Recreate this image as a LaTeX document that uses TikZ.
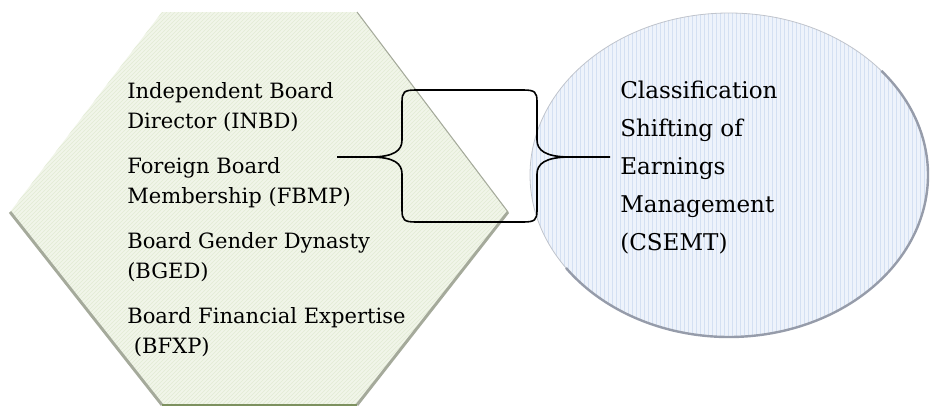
\documentclass[tikz,border=0pt]{standalone}
\usepackage{fontspec}
\setmainfont{DejaVu Serif}
\usetikzlibrary{patterns, calc}

\definecolor{hexgreen}{RGB}{241,245,233}
\definecolor{hexhatch}{RGB}{226,235,212}
\definecolor{hexshadow}{RGB}{165,170,155}
\definecolor{hexbase}{RGB}{125,145,95}
\definecolor{ovalblue}{RGB}{238,243,251}
\definecolor{ovalstripe}{RGB}{212,224,242}
\definecolor{ovaledge}{RGB}{150,156,170}

\begin{document}
\begin{tikzpicture}[x=0.75pt, y=-0.75pt,
    brace/.style={black, line width=1.2pt, line join=round},
    itemtext/.style={anchor=base west, align=left, inner sep=0pt,
      font=\fontsize{15.8}{22.5}\selectfont},
    outtext/.style={anchor=base west, align=left, inner sep=0pt,
      font=\fontsize{17.3}{28.5}\selectfont}]
    \useasboundingbox (0,0) rectangle (930,407);

    % Define corners of the hexagon
    \coordinate (H1) at (162,12);
    \coordinate (H2) at (357,12);
    \coordinate (H3) at (508,212);
    \coordinate (H4) at (357,405);
    \coordinate (H5) at (162,405);
    \coordinate (H6) at (10,212);

    % Hexagon (board characteristics)
    \fill[hexgreen] (H1) -- (H2) -- (H3) -- (H4) -- (H5) -- (H6) -- cycle;
    \fill[pattern=north east lines, pattern color=hexhatch]
      (H1) -- (H2) -- (H3) -- (H4) -- (H5) -- (H6) -- cycle;
    \draw[hexshadow, line width=0.8pt] (H2) -- (H3);
    \draw[hexshadow, line width=2.2pt] (H3) -- (H4);
    \draw[hexshadow, line width=2.2pt] (H6) -- (H5);
    \draw[hexbase, line width=1pt] (H5) -- (H4);

    % Ellipse (earnings management)
    \coordinate (E) at (729,175);
    \fill[ovalblue] (E) ellipse [x radius=199, y radius=162];
    \fill[pattern=vertical lines, pattern color=ovalstripe]
      (E) ellipse [x radius=199, y radius=162];
    \draw[ovaledge!60, line width=0.6pt] (E) ellipse [x radius=199, y radius=162];
    \draw[ovaledge, line width=1.8pt] ($(E)+(-40:199 and 162)$)
      arc [start angle=-40, end angle=145, x radius=199, y radius=162];

    % Independent variables
    \node[itemtext] (inbd) at (127,128) {Independent Board\\Director (INBD)};
    \node[itemtext] (fbmp) at (127,203) {Foreign Board\\Membership (FBMP)};
    \node[itemtext] (bged) at (127,278) {Board Gender Dynasty\\(BGED)};
    \node[itemtext] (bfxp) at (127,353) {Board Financial Expertise\\\ (BFXP)};

    % Dependent variable
    \node[outtext] (csemt) at (620,250)
      {Classification\\Shifting of\\Earnings\\Management\\(CSEMT)};

    % Brace link
    \coordinate (lt) at (337,157);
    \coordinate (rt) at (610,157);
    \draw[brace] (lt) -- ++(33,0) coordinate (lk)
      .. controls +(25,0) and +(0,10) .. (402,140) -- (402,102)
      .. controls +(0,-10) and +(-12,0) .. (416,90) -- (523,90)
      .. controls +(12,0) and +(0,-10) .. (537,102) -- (537,140)
      .. controls +(0,10) and +(-25,0) .. (570,157) coordinate (rk) -- (rt);
    \draw[brace] (lk)
      .. controls +(25,0) and +(0,-10) .. (402,174) -- (402,210)
      .. controls +(0,10) and +(-12,0) .. (416,222) -- (523,222)
      .. controls +(12,0) and +(0,10) .. (537,210) -- (537,174)
      .. controls +(0,-10) and +(-25,0) .. (rk);

  \end{tikzpicture}
\end{document}
